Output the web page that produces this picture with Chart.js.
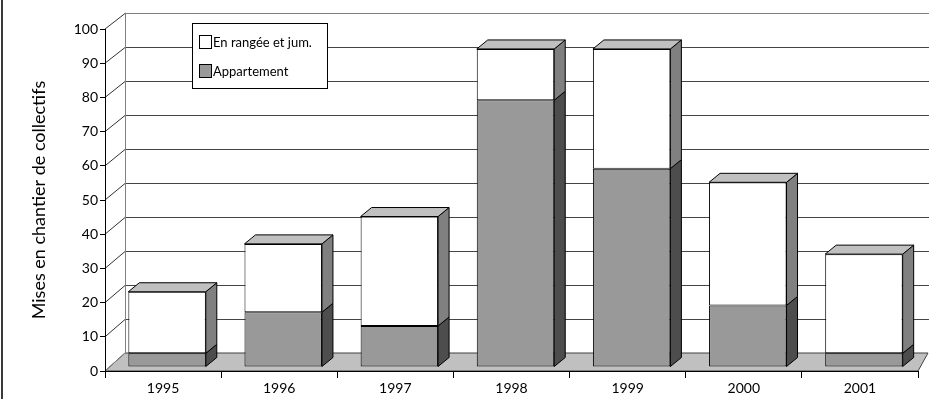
<!DOCTYPE html>
<html>
<head>
<meta charset="utf-8">
<script src="https://cdn.jsdelivr.net/npm/chart.js@4/dist/chart.umd.min.js"></script>
<style>
  html, body { margin: 0; padding: 0; background: #ffffff; }
  #wrap { width: 929px; height: 399px; position: relative; }
</style>
</head>
<body>
<div id="wrap"><canvas id="chart" width="929" height="399"></canvas></div>
<script>
// Housing starts by year, stacked by dwelling type
const years = ['1995', '1996', '1997', '1998', '1999', '2000', '2001'];
const appartement = [4, 16, 12, 78, 58, 18, 4];
const enRangee = [18, 20, 32, 15, 35, 36, 29];
const seriesNames = ['En rangée et jum.', 'Appartement'];
const axisTitle = 'Mises en chantier de collectifs';
const gridValues = [10, 20, 30, 40, 50, 60, 70, 80, 90, 100];

const FONT = 'Lato, "Open Sans", sans-serif';

// 3D look: wall depth, bar front-plane shift and bar depth
const WALL_DX_LEFT = 20, WALL_DX_RIGHT = 10, WALL_DY = -18;
const BAR_SHIFT_X = 4, BAR_SHIFT_Y = -4;
const BAR_DX = 11, BAR_DY = -9;

const colors = {
  rangeeFront: '#ffffff', rangeeSide: '#808080', top: '#c0c0c0',
  apptFront: '#999999', apptSide: '#4d4d4d',
  floor: '#c0c0c0', grid: '#454545', wallEdge: '#808080'
};

const box3d = {
  id: 'box3d',
  beforeDraw(chart) {
    const ctx = chart.ctx;
    const y = chart.scales.y;
    const area = chart.chartArea;
    const yBack = v => y.getPixelForValue(v) + WALL_DY + 1.6 * v / 100;
    const backLeft = area.left + WALL_DX_LEFT;
    const backRight = area.right + WALL_DX_RIGHT;
    ctx.save();
    // floor
    ctx.beginPath();
    ctx.moveTo(area.left, y.getPixelForValue(0));
    ctx.lineTo(area.right, y.getPixelForValue(0));
    ctx.lineTo(backRight, yBack(0));
    ctx.lineTo(backLeft, yBack(0));
    ctx.closePath();
    ctx.fillStyle = colors.floor;
    ctx.fill();
    ctx.strokeStyle = '#404040';
    ctx.lineWidth = 1;
    ctx.stroke();
    // back wall grid lines and side wall diagonals
    ctx.lineWidth = 1;
    gridValues.forEach(v => {
      const yb = Math.round(yBack(v)) + 0.5;
      ctx.strokeStyle = v === 100 ? colors.wallEdge : colors.grid;
      ctx.beginPath();
      ctx.moveTo(backLeft, yb);
      ctx.lineTo(chart.width, yb);
      ctx.stroke();
      ctx.strokeStyle = '#303030';
      ctx.beginPath();
      ctx.moveTo(area.left, y.getPixelForValue(v));
      ctx.lineTo(backLeft, yb);
      ctx.stroke();
    });
    // back corner edge
    ctx.strokeStyle = colors.wallEdge;
    ctx.beginPath();
    ctx.moveTo(backLeft + 0.5, yBack(100));
    ctx.lineTo(backLeft + 0.5, yBack(0));
    ctx.moveTo(area.left, y.getPixelForValue(0));
    ctx.lineTo(backLeft, yBack(0));
    ctx.stroke();
    ctx.restore();
  },
  beforeDatasetsDraw(chart) {
    chart.ctx.save();
    chart.ctx.translate(BAR_SHIFT_X, BAR_SHIFT_Y);
  },
  afterDatasetsDraw(chart) {
    const ctx = chart.ctx;
    ctx.lineWidth = 1;
    ctx.strokeStyle = '#000000';
    ctx.lineJoin = 'miter';
    chart.data.datasets.forEach((ds, di) => {
      const meta = chart.getDatasetMeta(di);
      meta.data.forEach(bar => {
        const p = bar.getProps(['x', 'y', 'base', 'width'], true);
        const left = p.x - p.width / 2, right = p.x + p.width / 2;
        const top = Math.min(p.y, p.base), bottom = Math.max(p.y, p.base);
        // side face
        ctx.beginPath();
        ctx.moveTo(right, top);
        ctx.lineTo(right + BAR_DX, top + BAR_DY);
        ctx.lineTo(right + BAR_DX, bottom + BAR_DY);
        ctx.lineTo(right, bottom);
        ctx.closePath();
        ctx.fillStyle = ds.sideColor;
        ctx.fill();
        ctx.stroke();
        // top face of the stack
        if (ds.isTop) {
          ctx.beginPath();
          ctx.moveTo(left, top);
          ctx.lineTo(left + BAR_DX, top + BAR_DY);
          ctx.lineTo(right + BAR_DX, top + BAR_DY);
          ctx.lineTo(right, top);
          ctx.closePath();
          ctx.fillStyle = colors.top;
          ctx.fill();
          ctx.stroke();
        }
      });
    });
    ctx.restore();
  },
  afterDraw(chart) {
    const ctx = chart.ctx;
    ctx.save();
    // frame edge on the left
    ctx.fillStyle = '#3a3a3a';
    ctx.fillRect(1, 0, 2, chart.height);
    // legend
    ctx.fillStyle = '#ffffff';
    ctx.fillRect(192.5, 23.5, 135, 65);
    ctx.strokeStyle = '#000000';
    ctx.lineWidth = 1;
    ctx.strokeRect(192.5, 23.5, 135, 65);
    const items = [
      { label: chart.data.datasets[1].label, fill: chart.data.datasets[1].backgroundColor, cy: 42 },
      { label: chart.data.datasets[0].label, fill: chart.data.datasets[0].backgroundColor, cy: 71 }
    ];
    ctx.font = '13px ' + FONT;
    ctx.textBaseline = 'middle';
    ctx.textAlign = 'left';
    items.forEach(it => {
      ctx.fillStyle = it.fill;
      ctx.fillRect(199.5, it.cy - 6.5, 12, 13);
      ctx.strokeRect(199.5, it.cy - 6.5, 12, 13);
      ctx.fillStyle = '#000000';
      ctx.fillText(it.label, 213, it.cy + 0.5);
    });
    ctx.restore();
  }
};

new Chart(document.getElementById('chart'), {
  type: 'bar',
  data: {
    labels: years,
    datasets: [
      {
        label: seriesNames[1], data: appartement,
        backgroundColor: colors.apptFront, sideColor: colors.apptSide, isTop: false,
        borderColor: '#000000', borderWidth: 1, borderSkipped: false, clip: false
      },
      {
        label: seriesNames[0], data: enRangee,
        backgroundColor: colors.rangeeFront, sideColor: colors.rangeeSide, isTop: true,
        borderColor: '#000000', borderWidth: 1, borderSkipped: false, clip: false
      }
    ]
  },
  options: {
    responsive: false,
    animation: false,
    devicePixelRatio: 1,
    layout: { padding: { top: 29, left: 0, right: 11, bottom: 0 } },
    datasets: { bar: { categoryPercentage: 1, barPercentage: 0.667 } },
    plugins: { legend: { display: false }, tooltip: { enabled: false } },
    scales: {
      x: {
        stacked: true,
        offset: true,
        grid: { display: true, offset: true, drawOnChartArea: false, drawTicks: true, tickLength: 7, color: '#000000' },
        border: { display: true, color: '#000000', width: 1 },
        ticks: { color: '#000000', font: { family: FONT, size: 14 }, padding: 2, maxRotation: 0 },
        afterFit(scale) { scale.height = 28; }
      },
      y: {
        stacked: true,
        min: 0, max: 100,
        grid: { display: true, drawOnChartArea: false, drawTicks: true, tickLength: 5, color: '#000000' },
        border: { display: true, color: '#000000', width: 1 },
        ticks: { stepSize: 10, color: '#000000', font: { family: FONT, size: 14 }, padding: 2 },
        title: { display: true, text: axisTitle, color: '#000000', font: { family: FONT, size: 18 }, padding: { top: 28, bottom: 0 } },
        afterFit(scale) { scale.width = 105; }
      }
    }
  },
  plugins: [box3d]
});
</script>
</body>
</html>
